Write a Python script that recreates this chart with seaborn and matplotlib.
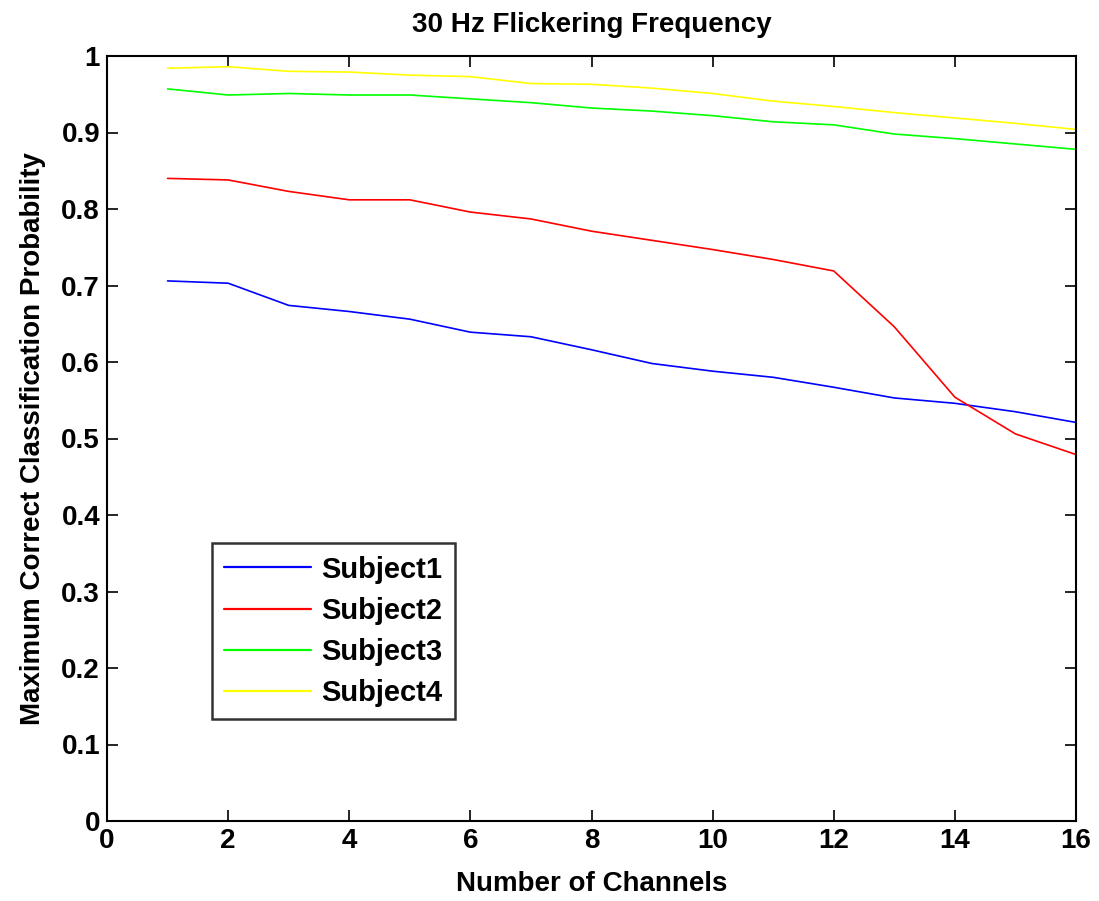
import numpy as np
import pandas as pd
import matplotlib
matplotlib.use("Agg")
import matplotlib.pyplot as plt
import seaborn as sns

channels = list(range(1, 17))
subject1 = [0.706, 0.703, 0.674, 0.666, 0.656, 0.639, 0.633, 0.616, 0.598, 0.588, 0.580, 0.567, 0.553, 0.546, 0.535, 0.521]
subject2 = [0.840, 0.838, 0.823, 0.812, 0.812, 0.796, 0.787, 0.771, 0.759, 0.747, 0.734, 0.719, 0.646, 0.554, 0.506, 0.479]
subject3 = [0.957, 0.949, 0.951, 0.949, 0.949, 0.944, 0.939, 0.932, 0.928, 0.922, 0.914, 0.910, 0.898, 0.892, 0.885, 0.878]
subject4 = [0.984, 0.986, 0.980, 0.979, 0.975, 0.973, 0.964, 0.963, 0.958, 0.951, 0.941, 0.934, 0.926, 0.919, 0.912, 0.904]
names = ["Subject1", "Subject2", "Subject3", "Subject4"]
colors = ["#0000ff", "#ff0000", "#00ff00", "#ffff00"]
xticks = list(range(0, 17, 2))
yticks = [round(0.1 * i, 1) for i in range(11)]
ytick_labels = ["0", "0.1", "0.2", "0.3", "0.4", "0.5", "0.6", "0.7", "0.8", "0.9", "1"]

df = pd.DataFrame({
    "Channels": channels * 4,
    "Prob": subject1 + subject2 + subject3 + subject4,
    "Subject": sum([[n] * len(channels) for n in names], []),
})

sns.set_theme(style="white")
plt.rcParams["font.family"] = ["Liberation Sans", "DejaVu Sans"]
plt.rcParams["font.weight"] = "bold"
plt.rcParams["text.color"] = "black"
plt.rcParams["axes.labelcolor"] = "black"

fig = plt.figure(figsize=(10.99, 9.01), dpi=100)
ax = fig.add_axes([107 / 1099, 1 - 821 / 901, (1076 - 107) / 1099, (821 - 56) / 901])

sns.lineplot(data=df, x="Channels", y="Prob", hue="Subject", palette=colors,
             linewidth=1.2, ax=ax, legend=True)

ax.set_xlim(0, 16)
ax.set_ylim(0, 1)
ax.set_xticks(xticks)
ax.set_xticklabels([str(t) for t in xticks])
ax.set_yticks(yticks)
ax.set_yticklabels(ytick_labels)
ax.tick_params(direction="in", length=8, width=1.2, labelsize=20, top=True, right=True,
               bottom=True, left=True, pad=5, colors="black", labelcolor="black")
for lbl in ax.get_xticklabels() + ax.get_yticklabels():
    lbl.set_fontweight("bold")
for s in ax.spines.values():
    s.set_color("black")
    s.set_linewidth(1.5)

ax.set_xlabel("Number of Channels", fontsize=20, fontweight="bold", labelpad=12, color="black")
ax.set_ylabel("Maximum Correct Classification Probability", fontsize=20, fontweight="bold",
              labelpad=11, color="black")
ax.set_title("30 Hz Flickering Frequency", fontsize=20, fontweight="bold", pad=17, color="black")

leg = ax.legend(loc="lower left", bbox_to_anchor=(0.108, 0.133), borderaxespad=0,
                frameon=True, fancybox=False, fontsize=21, handlelength=3.0,
                labelspacing=0.45, borderpad=0.42, handletextpad=0.35)
leg.get_frame().set_edgecolor("black")
leg.get_frame().set_linewidth(1.8)
for t in leg.get_texts():
    t.set_fontweight("bold")
    t.set_color("black")
for h in leg.get_lines():
    h.set_linewidth(1.6)

fig.savefig("out.png", dpi=100, facecolor="white")
